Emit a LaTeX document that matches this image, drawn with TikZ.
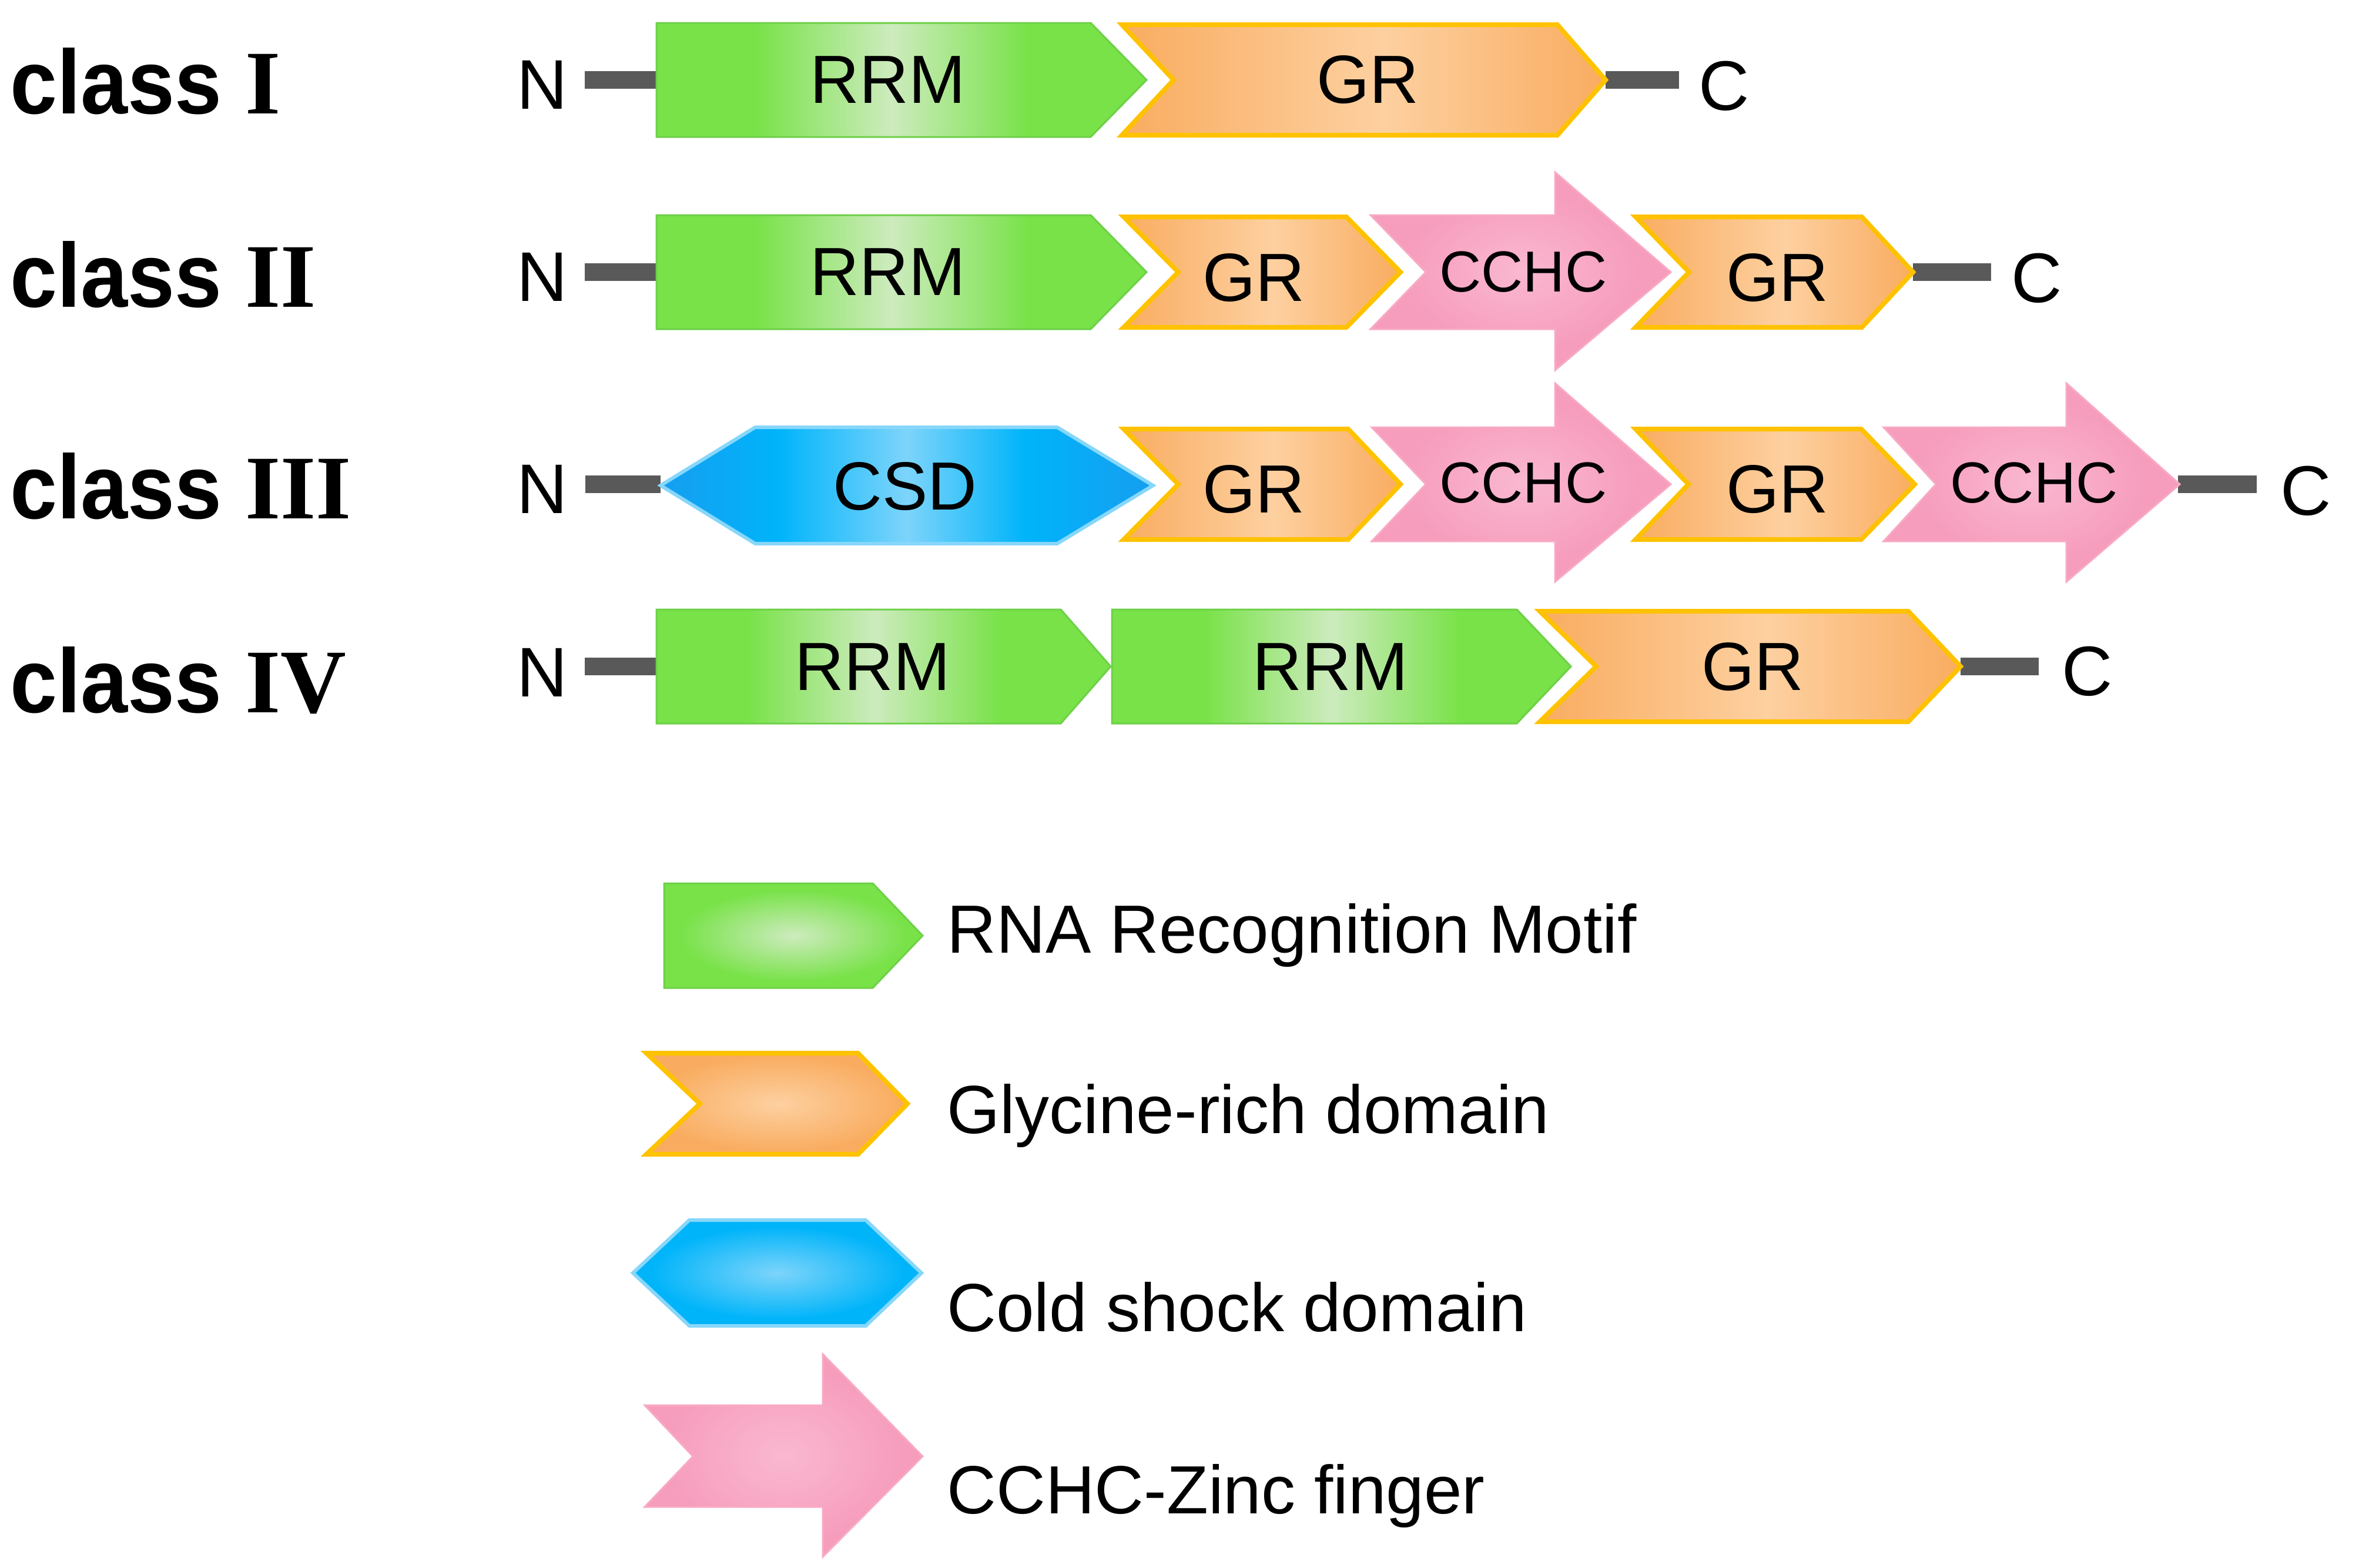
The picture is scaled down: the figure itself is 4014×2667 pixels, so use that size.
\documentclass[tikz,border=0pt]{standalone}
\usepackage{fontspec}
\setmainfont{Liberation Sans}
\newfontfamily\romanfont{Liberation Serif}
\newfontfamily\clsfont{Liberation Sans}[FakeStretch=0.93]
\definecolor{grn}{RGB}{120,226,72}
\definecolor{grnL}{RGB}{205,235,190}
\definecolor{grnD}{RGB}{110,208,72}
\definecolor{org}{RGB}{249,172,96}
\definecolor{orgL}{RGB}{253,208,160}
\definecolor{orgB}{RGB}{255,194,0}
\definecolor{pnk}{RGB}{246,156,188}
\definecolor{pnkL}{RGB}{250,184,208}
\definecolor{pnkB}{RGB}{248,170,196}
\definecolor{blu}{RGB}{0,180,250}
\definecolor{bluD}{RGB}{22,158,240}
\definecolor{bluL}{RGB}{125,212,250}
\definecolor{bluB}{RGB}{135,215,250}
\definecolor{lin}{RGB}{89,89,89}
\pgfdeclarehorizontalshading{rrmband}{100bp}{color(0bp)=(grn); color(35bp)=(grn); color(49bp)=(grnL); color(63bp)=(grn); color(100bp)=(grn)}
\pgfdeclarehorizontalshading{grband}{100bp}{color(0bp)=(org); color(25bp)=(org); color(52bp)=(orgL); color(75bp)=(org); color(100bp)=(org)}
\pgfdeclarehorizontalshading{csdband}{100bp}{color(0bp)=(bluD); color(25bp)=(bluD); color(37bp)=(blu); color(50bp)=(bluL); color(62bp)=(blu); color(75bp)=(bluD); color(100bp)=(bluD)}
\pgfdeclareradialshading{cchcrad}{\pgfpointorigin}{color(0bp)=(pnkL); color(20bp)=(pnk); color(50bp)=(pnk)}
\pgfdeclareradialshading{legrrm}{\pgfpointorigin}{color(0bp)=(grnL); color(22bp)=(grn); color(50bp)=(grn)}
\pgfdeclareradialshading{leggr}{\pgfpointorigin}{color(0bp)=(orgL); color(24bp)=(org); color(50bp)=(org)}
\pgfdeclareradialshading{legcsd}{\pgfpointorigin}{color(0bp)=(bluL); color(22bp)=(blu); color(50bp)=(blu)}
\pgfdeclareradialshading{legcchc}{\pgfpointorigin}{color(0bp)=(pnkL); color(22bp)=(pnk); color(50bp)=(pnk)}
\tikzset{
  lbl/.style={inner sep=0pt, font=\fontsize{33}{36}\selectfont},
  lblsmall/.style={inner sep=0pt, font=\fontsize{28}{30}\selectfont},
  term/.style={inner sep=0pt, font=\fontsize{34}{36}\selectfont},
  cls/.style={inner sep=0pt, anchor=base west, font=\fontsize{44}{48}\selectfont\clsfont\bfseries},
  legtext/.style={inner sep=0pt, anchor=base west, font=\fontsize{33}{36}\selectfont},
  bar/.style={draw=lin, line width=3mm},
  rrmfill/.style={shade, shading=rrmband, draw=grnD, line width=0.3mm},
  grfill/.style={shade, shading=grband, draw=orgB, line width=0.8mm, line join=miter},
  csdfill/.style={shade, shading=csdband, draw=bluB, line width=0.6mm},
  cchcfill/.style={shade, shading=cchcrad, draw=pnkB, line width=0.3mm},
}
\begin{document}
\begin{tikzpicture}[x=0.1mm,y=-0.1mm]
\useasboundingbox (0,0) rectangle (4014,2667);
% ---------- class labels ----------
\node[cls] (k1) at (17,193) {class {\romanfont I}};
\node[cls] (k2) at (17,522) {class {\romanfont II}};
\node[cls] (k3) at (17,882) {class {\romanfont III}};
\node[cls] (k4) at (17,1212) {class {\romanfont IV}};
% ---------- N terminals ----------
\node[term] (n1) at (923,144) {N};
\node[term] (n2) at (923,471) {N};
\node[term] (n3) at (923,832) {N};
\node[term] (n4) at (923,1144) {N};
\coordinate (n1b) at (995,136);  \coordinate (r1a) at (1117,136);
\coordinate (n2b) at (995,463);  \coordinate (r2a) at (1117,463);
\coordinate (n3b) at (996,824);  \coordinate (r3a) at (1124,824);
\coordinate (n4b) at (995,1134); \coordinate (r4a) at (1117,1134);
\draw[bar] (n1b) -- (r1a);
\draw[bar] (n2b) -- (r2a);
\draw[bar] (n3b) -- (r3a);
\draw[bar] (n4b) -- (r4a);
% ---------- C terminals ----------
\coordinate (e1) at (2732,136);  \coordinate (c1b) at (2857,136);
\coordinate (e2) at (3255,463);  \coordinate (c2b) at (3388,463);
\coordinate (e3) at (3706,824);  \coordinate (c3b) at (3840,824);
\coordinate (e4) at (3336,1134); \coordinate (c4b) at (3469,1134);
\draw[bar] (e1) -- (c1b);
\draw[bar] (e2) -- (c2b);
\draw[bar] (e3) -- (c3b);
\draw[bar] (e4) -- (c4b);
\node[term, anchor=west] (c1) at (2890,146) {C};
\node[term, anchor=west] (c2) at (3422,473) {C};
\node[term, anchor=west] (c3) at (3880,835) {C};
\node[term, anchor=west] (c4) at (3508,1142) {C};
% ---------- row 1 ----------
\path[rrmfill] (1117,39) -- (1856,39) -- (1951,136) -- (1856,233) -- (1117,233) -- cycle;
\path[grfill] (1909,42) -- (2650,42) -- (2732,136) -- (2650,230) -- (1909,230) -- (1997,136) -- cycle;
\node[lbl] (t11) at (1511,136) {RRM};
\node[lbl] (t12) at (2327,136) {GR};
% ---------- row 2 ----------
\path[rrmfill] (1117,366) -- (1856,366) -- (1951,463) -- (1856,560) -- (1117,560) -- cycle;
\path[grfill] (1912,369) -- (2291,369) -- (2383,463) -- (2291,557) -- (1912,557) -- (2005,463) -- cycle;
\path[cchcfill] (2332,366) -- (2646,366) -- (2646,293) -- (2843,463) -- (2646,630) -- (2646,560) -- (2332,560) -- (2426,463) -- cycle;
\path[grfill] (2783,369) -- (3168,369) -- (3255,463) -- (3168,557) -- (2783,557) -- (2874,463) -- cycle;
\node[lbl] (t21) at (1511,463) {RRM};
\node[lbl] (t22) at (2133,473) {GR};
\node[lblsmall] (t23) at (2592,463) {CCHC};
\node[lbl] (t24) at (3024,473) {GR};
% ---------- row 3 ----------
\path[csdfill] (1124,826) -- (1285,727) -- (1799,727) -- (1962,826) -- (1799,925) -- (1285,925) -- cycle;
\path[grfill] (1912,730) -- (2294,730) -- (2383,824) -- (2294,918) -- (1912,918) -- (2005,824) -- cycle;
\path[cchcfill] (2334,727) -- (2646,727) -- (2646,652) -- (2843,824) -- (2646,990) -- (2646,921) -- (2334,921) -- (2426,824) -- cycle;
\path[grfill] (2783,730) -- (3167,730) -- (3258,824) -- (3167,918) -- (2783,918) -- (2873,824) -- cycle;
\path[cchcfill] (3205,727) -- (3516,727) -- (3516,652) -- (3709,824) -- (3516,990) -- (3516,921) -- (3205,921) -- (3294,824) -- cycle;
\node[lbl] (t31) at (1540,828) {CSD};
\node[lbl] (t32) at (2133,833) {GR};
\node[lblsmall] (t33) at (2592,822) {CCHC};
\node[lbl] (t34) at (3024,833) {GR};
\node[lblsmall] (t35) at (3461,822) {CCHC};
% ---------- row 4 ----------
\path[rrmfill] (1117,1037) -- (1805,1037) -- (1890,1134) -- (1805,1231) -- (1117,1231) -- cycle;
\path[rrmfill] (1892,1037) -- (2581,1037) -- (2673,1134) -- (2581,1231) -- (1892,1231) -- cycle;
\path[grfill] (2620,1040) -- (3247,1040) -- (3336,1134) -- (3247,1228) -- (2620,1228) -- (2716,1134) -- cycle;
\node[lbl] (t41) at (1485,1135) {RRM};
\node[lbl] (t42) at (2264,1135) {RRM};
\node[lbl] (t43) at (2982,1135) {GR};
% ---------- legend ----------
\path[shade, shading=legrrm, draw=grnD, line width=0.3mm] (1130,1503) -- (1485,1503) -- (1570,1592) -- (1485,1681) -- (1130,1681) -- cycle;
\path[shade, shading=leggr, draw=orgB, line width=0.8mm, line join=miter] (1100,1792) -- (1460,1792) -- (1544,1878) -- (1460,1964) -- (1100,1964) -- (1191,1878) -- cycle;
\path[shade, shading=legcsd, draw=bluB, line width=0.6mm] (1077,2166) -- (1173,2076) -- (1473,2076) -- (1568,2166) -- (1473,2256) -- (1173,2256) -- cycle;
\path[shade, shading=legcchc, draw=pnkB, line width=0.3mm] (1097,2391) -- (1400,2391) -- (1400,2304) -- (1570,2478) -- (1400,2649) -- (1400,2564) -- (1097,2564) -- (1179,2478) -- cycle;
\node[legtext] (l1) at (1611,1621) {RNA Recognition Motif};
\node[legtext] (l2) at (1611,1928) {Glycine-rich domain};
\node[legtext] (l3) at (1611,2265) {Cold shock domain};
\node[legtext] (l4) at (1611,2575) {CCHC-Zinc finger};
\end{tikzpicture}
\end{document}
